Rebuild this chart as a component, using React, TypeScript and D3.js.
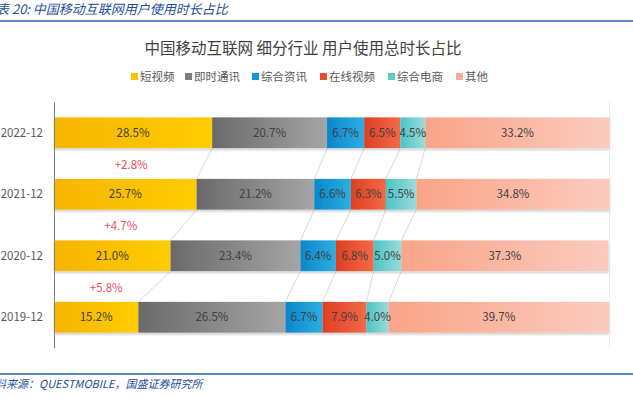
import React, { useEffect, useRef } from 'react';
import * as d3 from 'd3';

const categories = ['2022-12', '2021-12', '2020-12', '2019-12'];
const seriesNames = ['短视频', '即时通讯', '综合资讯', '在线视频', '综合电商', '其他'];
const shortVideo = [28.5, 25.7, 21.0, 15.2];
const instantMsg = [20.7, 21.2, 23.4, 26.5];
const news = [6.7, 6.6, 6.4, 6.7];
const onlineVideo = [6.5, 6.3, 6.8, 7.9];
const ecommerce = [4.5, 5.5, 5.0, 4.0];
const others = [33.2, 34.8, 37.3, 39.7];
const growthLabels = ['+2.8%', '+4.7%', '+5.8%'];

const seriesValues = [shortVideo, instantMsg, news, onlineVideo, ecommerce, others];
const colorStops = [
  ['#f7b500', '#ffcc00'],
  ['#6a6a6a', '#a5a5a5'],
  ['#0a86cc', '#2eaee2'],
  ['#de3f22', '#f26a48'],
  ['#4cc4c6', '#9adcda'],
  ['#f9a488', '#fccbbd'],
];
const legendColors = ['#ffc000', '#7f7f7f', '#1596d6', '#e8502e', '#5ccccc', '#f8ab98'];

const FONT = '"Microsoft YaHei", "Noto Sans CJK SC", "Noto Sans", sans-serif';

export default function App() {
  const ref = useRef<SVGSVGElement>(null);

  useEffect(() => {
    const width = 633, height = 398;
    const svg = d3.select(ref.current);
    svg.selectAll('*').remove();
    svg.attr('width', width).attr('height', height);

    const defs = svg.append('defs');
    colorStops.forEach((c, i) => {
      const g = defs.append('linearGradient').attr('id', 'grad' + i);
      g.append('stop').attr('offset', '0%').attr('stop-color', c[0]);
      g.append('stop').attr('offset', '100%').attr('stop-color', c[1]);
    });
    const f = defs.append('filter').attr('id', 'shadow').attr('x', '-5%').attr('y', '-20%').attr('width', '110%').attr('height', '160%');
    f.append('feDropShadow').attr('dx', 0).attr('dy', 2).attr('stdDeviation', 1.2).attr('flood-color', '#000').attr('flood-opacity', 0.18);

    // header
    svg.append('text').attr('x', -4).attr('y', 14)
      .attr('font-family', '"Noto Sans CJK SC", sans-serif').attr('font-style', 'italic')
      .attr('font-size', 13).attr('fill', '#1f4e9a')
      .text('表 20:  中国移动互联网用户使用时长占比');
    svg.append('line').attr('x1', 0).attr('x2', width).attr('y1', 21).attr('y2', 21)
      .attr('stroke', '#2a5ba8').attr('stroke-width', 1.5);

    // title
    svg.append('text').attr('x', 303).attr('y', 54).attr('text-anchor', 'middle')
      .attr('font-family', FONT).attr('font-size', 15.5).attr('fill', '#404040')
      .text('中国移动互联网 细分行业 用户使用总时长占比');

    // legend
    const legendX = [131, 185, 252, 320, 388, 456];
    seriesNames.forEach((name, i) => {
      svg.append('rect').attr('x', legendX[i]).attr('y', 73).attr('width', 7).attr('height', 7)
        .attr('fill', legendColors[i]);
      svg.append('text').attr('x', legendX[i] + 9).attr('y', 81)
        .attr('font-family', FONT).attr('font-size', 11.5).attr('fill', '#595959').text(name);
    });

    const x = d3.scaleLinear().domain([0, 100]).range([54, 609]);
    const y = d3.scaleBand().domain(categories).range([102, 348]).paddingInner(0.5).paddingOuter(0.25);

    // light right border
    svg.append('line').attr('x1', 609.5).attr('x2', 609.5).attr('y1', 102).attr('y2', 348)
      .attr('stroke', '#ececec');

    const stacked = categories.map((c, ci) => {
      let acc = 0;
      return seriesValues.map((s, si) => {
        const d = { cat: c, si, v: s[ci], x0: acc, x1: acc + s[ci] };
        acc += s[ci];
        return d;
      });
    });

    // connectors
    for (let ci = 0; ci < categories.length - 1; ci++) {
      for (let si = 0; si < seriesNames.length - 1; si++) {
        svg.append('line')
          .attr('x1', x(stacked[ci][si].x1)).attr('y1', y(categories[ci])! + y.bandwidth())
          .attr('x2', x(stacked[ci + 1][si].x1)).attr('y2', y(categories[ci + 1])!)
          .attr('stroke', '#cfcfcf').attr('stroke-width', 0.8);
      }
    }

    const rows = svg.selectAll('.row').data(stacked).join('g').attr('class', 'row')
      .attr('filter', 'url(#shadow)');
    rows.selectAll('rect').data(d => d).join('rect')
      .attr('x', d => x(d.x0))
      .attr('y', d => y(d.cat)!)
      .attr('width', d => x(d.x1) - x(d.x0))
      .attr('height', y.bandwidth())
      .attr('fill', d => `url(#grad${d.si})`);

    svg.selectAll('.vlabel').data(stacked.flat()).join('text').attr('class', 'vlabel')
      .attr('x', d => (x(d.x0) + x(d.x1)) / 2)
      .attr('y', d => y(d.cat)! + y.bandwidth() / 2 + 4)
      .attr('text-anchor', 'middle')
      .attr('font-family', FONT).attr('font-size', 11.5).attr('fill', '#404040')
      .text(d => d.v.toFixed(1) + '%');

    // axis
    svg.append('line').attr('x1', 54.5).attr('x2', 54.5).attr('y1', 102).attr('y2', 348)
      .attr('stroke', '#7f7f7f').attr('stroke-width', 1);
    svg.selectAll('.cat').data(categories).join('text').attr('class', 'cat')
      .attr('x', 43).attr('y', d => y(d)! + y.bandwidth() / 2 + 4)
      .attr('text-anchor', 'end')
      .attr('font-family', FONT).attr('font-size', 11.5).attr('fill', '#595959')
      .text(d => d);

    // growth labels
    growthLabels.forEach((g, i) => {
      const avg = (shortVideo[i] + shortVideo[i + 1]) / 4;
      svg.append('text')
        .attr('x', x(avg) + 2).attr('y', y(categories[i])! + y.bandwidth() + (y.step() - y.bandwidth()) / 2 + 5)
        .attr('text-anchor', 'middle')
        .attr('font-family', FONT).attr('font-size', 11.5).attr('fill', '#e8505b')
        .text(g);
    });

    // footer
    svg.append('line').attr('x1', 0).attr('x2', width).attr('y1', 374).attr('y2', 374)
      .attr('stroke', '#2a5ba8').attr('stroke-width', 1.5);
    svg.append('text').attr('x', -16).attr('y', 388)
      .attr('font-family', '"Noto Sans CJK SC", sans-serif').attr('font-style', 'italic')
      .attr('font-size', 11).attr('fill', '#1f4e9a')
      .text('资料来源：QUESTMOBILE，国盛证券研究所');
  }, []);

  return (
    <div style={{ position: 'absolute', left: 0, top: 0 }}>
      <svg ref={ref} style={{ display: 'block', background: '#fff' }} />
    </div>
  );
}
